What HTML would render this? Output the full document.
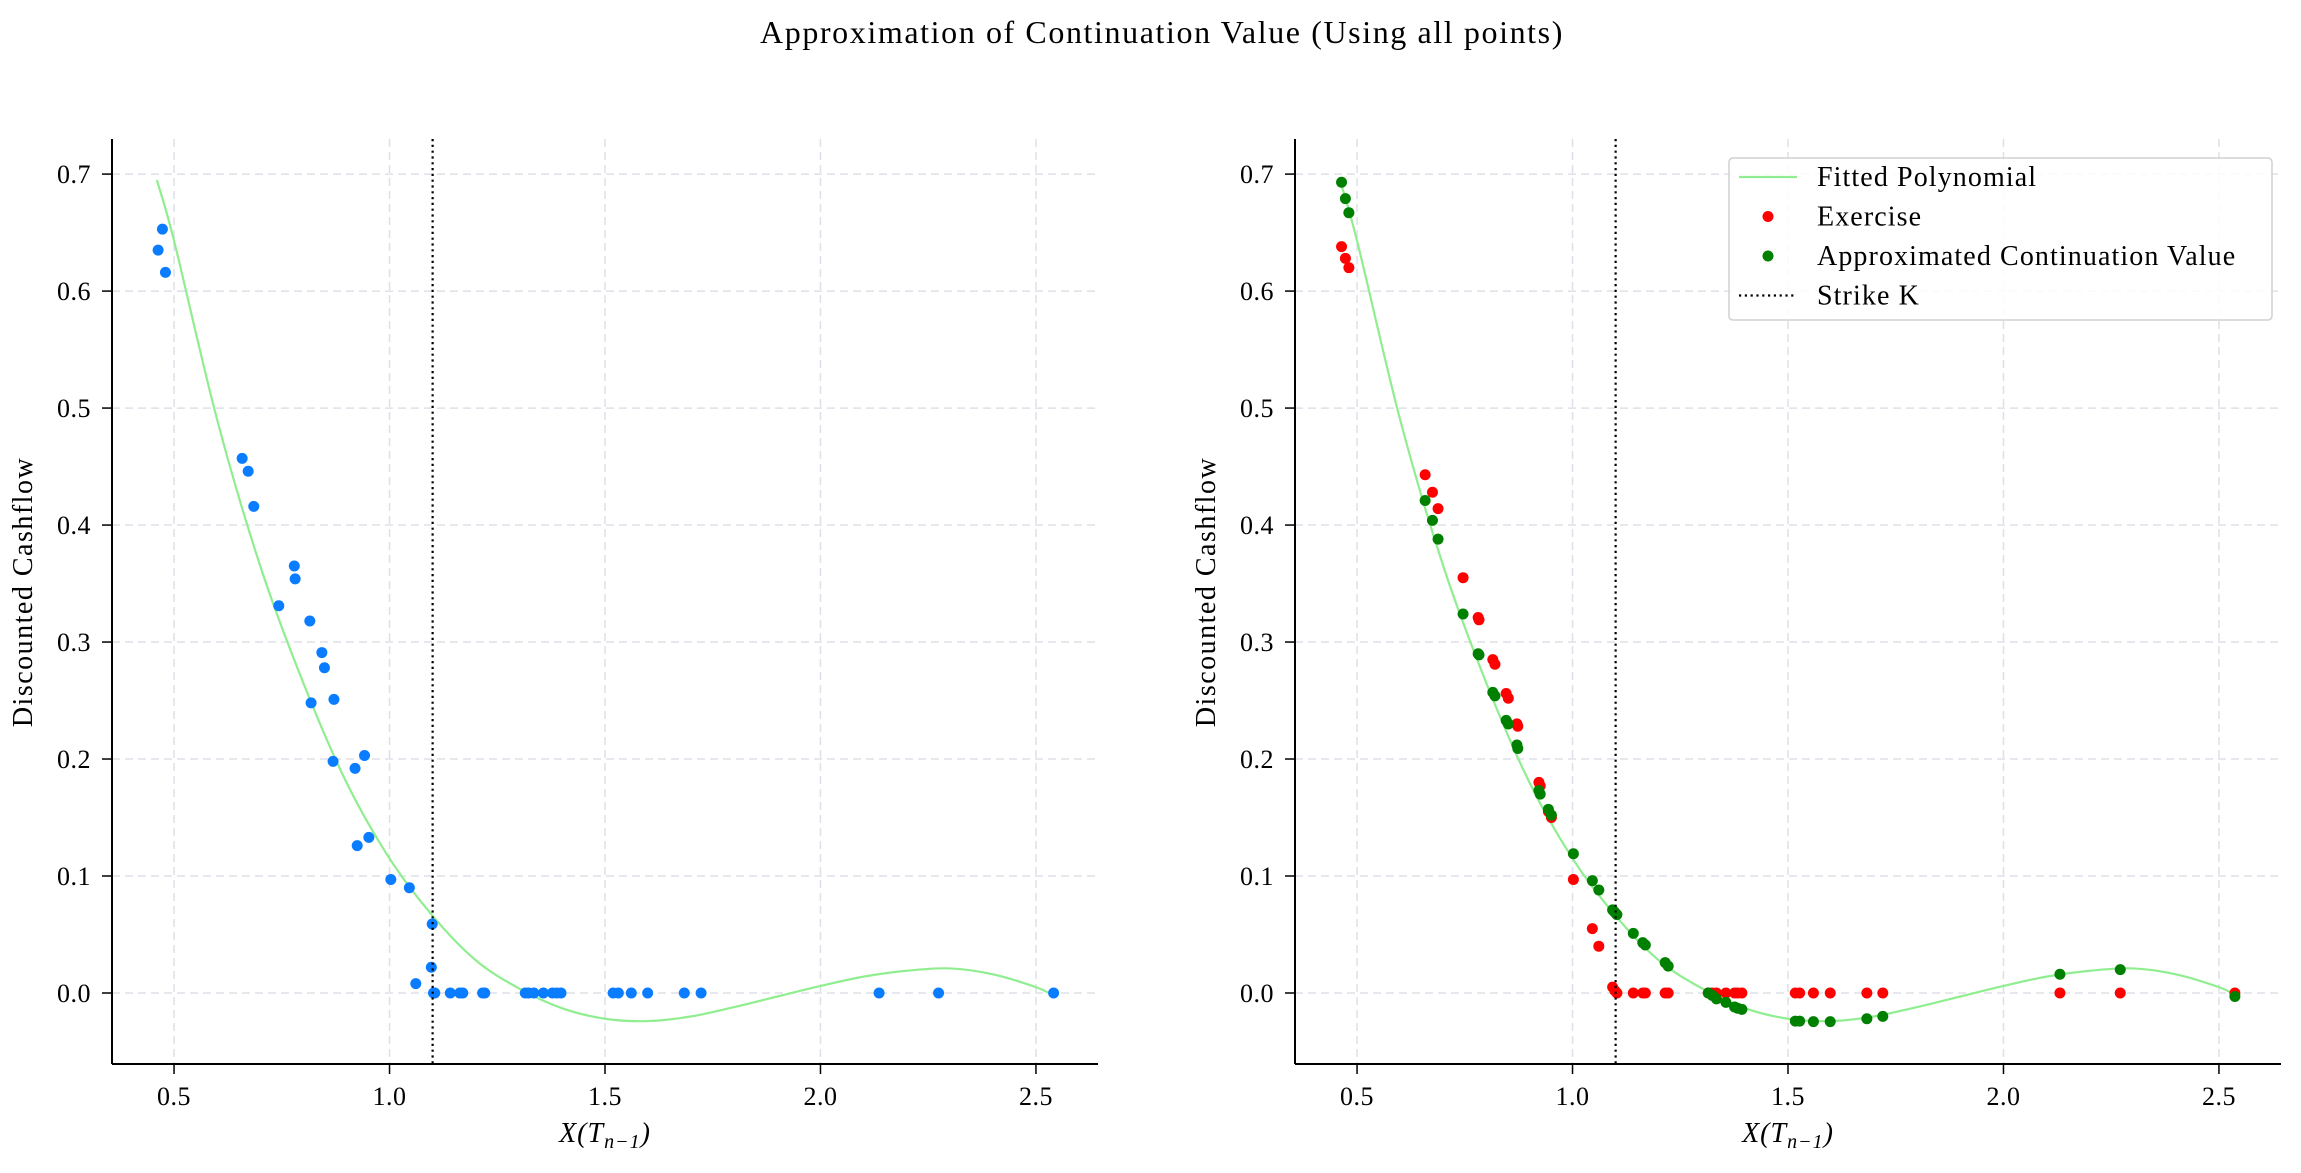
<!DOCTYPE html>
<html><head><meta charset="utf-8">
<style>
html,body{margin:0;padding:0;background:#fff;}
svg text{font-family:"Liberation Serif","DejaVu Serif",serif;fill:#000;}
</style></head>
<body>
<svg id="fig" width="2301" height="1168" xmlns="http://www.w3.org/2000/svg">
<text x="1162" y="43" font-size="32" letter-spacing="1.6" text-anchor="middle">Approximation of Continuation Value (Using all points)</text>
</svg>
<script>
const xTicks = [0.5, 1.0, 1.5, 2.0, 2.5];
const xTickLabels = ["0.5", "1.0", "1.5", "2.0", "2.5"];
const yTicks = [0.0, 0.1, 0.2, 0.3, 0.4, 0.5, 0.6, 0.7];
const yTickLabels = ["0.0", "0.1", "0.2", "0.3", "0.4", "0.5", "0.6", "0.7"];
const strikeK = 1.1;
const curveX = [0.46,0.5,0.6,0.7,0.8,0.9,1.0,1.1,1.2,1.3,1.4,1.5,1.6,1.7,1.8,1.9,2.0,2.1,2.2,2.3,2.4,2.5,2.54];
const curveY = [0.695,0.643,0.49,0.365,0.265,0.18,0.115,0.066,0.028,0.004,-0.013,-0.022,-0.024,-0.02,-0.012,-0.003,0.006,0.014,0.019,0.021,0.016,0.005,-0.002];
const leftX = [0.463,0.473,0.48,0.658,0.672,0.685,0.743,0.779,0.781,0.815,0.818,0.843,0.849,0.869,0.871,0.92,0.925,0.942,0.952,1.003,1.046,1.061,1.097,1.099,
 1.102,1.105,1.141,1.163,1.170,1.216,1.221,1.315,1.323,1.335,1.357,1.378,1.388,1.398,1.519,1.531,1.561,1.599,1.684,1.723,2.136,2.274,2.541];
const leftY = [0.635,0.653,0.616,0.457,0.446,0.416,0.331,0.365,0.354,0.318,0.248,0.291,0.278,0.198,0.251,0.192,0.126,0.203,0.133,0.097,0.090,0.008,0.022,0.059,
 0,0,0,0,0,0,0,0,0,0,0,0,0,0,0,0,0,0,0,0,0,0,0];
const rightX = [0.464,0.473,0.481,0.658,0.675,0.688,0.746,0.781,0.783,0.815,0.82,0.846,0.851,0.871,0.873,0.922,0.925,0.944,0.951,1.002,1.046,1.061,1.093,1.098,1.103,
 1.141,1.163,1.169,1.215,1.222,1.315,1.324,1.334,1.356,1.376,1.383,1.393,1.517,1.527,1.559,1.598,1.683,1.72,2.131,2.271,2.537];
const exerciseY = [0.638,0.628,0.62,0.443,0.428,0.414,0.355,0.321,0.319,0.285,0.281,0.256,0.252,0.23,0.228,0.18,0.177,0.155,0.15,0.097,0.055,0.04,0.005,0.002,0.0,
 0,0,0,0,0,0,0,0,0,0,0,0,0,0,0,0,0,0,0,0,0];
const continuationY = [0.693,0.679,0.667,0.421,0.404,0.388,0.324,0.29,0.289,0.257,0.254,0.233,0.23,0.212,0.209,0.173,0.17,0.157,0.152,0.119,0.096,0.088,0.071,0.069,0.067,
 0.051,0.043,0.041,0.026,0.023,0.0,-0.002,-0.005,-0.008,-0.012,-0.013,-0.014,-0.024,-0.024,-0.0245,-0.0245,-0.022,-0.02,0.016,0.020,-0.003];

const NS = "http://www.w3.org/2000/svg";
const fig = document.getElementById('fig');
function mk(tag, attrs, parent){const e=document.createElementNS(NS,tag);for(const k in attrs)e.setAttribute(k,attrs[k]);(parent||fig).appendChild(e);return e;}
const XMIN=0.356, XMAX=2.644, YMIN=-0.0607, YMAX=0.73, TOP=139, BOT=1064;
function yScale(v){return BOT-(v-YMIN)/(YMAX-YMIN)*(BOT-TOP);}

function smoothPath(xs, ys, sx){
  const p = xs.map((x,i)=>[sx(x), yScale(ys[i])]);
  let d = `M${p[0][0]},${p[0][1]}`;
  for(let i=0;i<p.length-1;i++){
    const p0=p[Math.max(0,i-1)], p1=p[i], p2=p[i+1], p3=p[Math.min(p.length-1,i+2)];
    const c1=[p1[0]+(p2[0]-p0[0])/6, p1[1]+(p2[1]-p0[1])/6];
    const c2=[p2[0]-(p3[0]-p1[0])/6, p2[1]-(p3[1]-p1[1])/6];
    d += ` C${c1[0]},${c1[1]} ${c2[0]},${c2[1]} ${p2[0]},${p2[1]}`;
  }
  return d;
}

function panel(L, R, name, drawPoints){
  const g = mk('g', {});
  
  
  const xs = v => L + (v-XMIN)/(XMAX-XMIN)*(R-L);
  xTicks.forEach((t,i)=>{
    const gl = mk('line',{x1:xs(t),x2:xs(t),y1:TOP,y2:BOT,stroke:'#dde0e8','stroke-width':1.5,'stroke-dasharray':'8,5'},g);
    
    
    const tk = mk('line',{x1:xs(t),x2:xs(t),y1:BOT,y2:BOT+10,stroke:'#000','stroke-width':1.5},g);
    
    
    const tl = mk('text',{x:xs(t),y:BOT+41,'font-size':26,'letter-spacing':0.5,'text-anchor':'middle'},g);
    tl.textContent = xTickLabels[i];
    
    
  });
  yTicks.forEach((t,i)=>{
    const gl = mk('line',{x1:L,x2:R,y1:yScale(t),y2:yScale(t),stroke:'#dde0e8','stroke-width':1.5,'stroke-dasharray':'8,5'},g);
    
    
    const tk = mk('line',{x1:L-10,x2:L,y1:yScale(t),y2:yScale(t),stroke:'#000','stroke-width':1.5},g);
    
    
    const tl = mk('text',{x:L-21,y:yScale(t)+9,'font-size':26,'letter-spacing':0.5,'text-anchor':'end'},g);
    tl.textContent = yTickLabels[i];
    
    
  });
  const c = mk('path',{d:smoothPath(curveX,curveY,xs),fill:'none',stroke:'#90ee90','stroke-width':2.2},g);
  
  
  drawPoints(g, xs);
  const s = mk('line',{x1:xs(strikeK),x2:xs(strikeK),y1:TOP,y2:BOT,stroke:'#000','stroke-width':2.2,'stroke-dasharray':'2.2,3.6'},g);
  
  
  const sl = mk('line',{x1:L,x2:L,y1:TOP,y2:BOT,stroke:'#000','stroke-width':2},g);
  
  
  const sb = mk('line',{x1:L,x2:R,y1:BOT,y2:BOT,stroke:'#000','stroke-width':2},g);
  
  
  const xl = mk('text',{x:(L+R)/2,y:1142,'font-size':28,'letter-spacing':1,'text-anchor':'middle','font-style':'italic'},g);
  xl.innerHTML = 'X(T<tspan font-size="20" dy="6">n−1</tspan><tspan dy="-6">)</tspan>';
  
  
  const yl = mk('text',{x:0,y:0,'font-size':28,'letter-spacing':1.5,'text-anchor':'middle',transform:`translate(${L-80},592) rotate(-90)`},g);
  yl.textContent = 'Discounted Cashflow';
  
  
}

panel(112, 1098, 'left-chart', (g, xs)=>{
  leftX.forEach((x,i)=>{
    const d = mk('circle',{cx:xs(x),cy:yScale(leftY[i]),r:5.5,fill:'#0a7cff'},g);
    
    
  });
});
panel(1295, 2281, 'right-chart', (g, xs)=>{
  rightX.forEach((x,i)=>{
    const d = mk('circle',{cx:xs(x),cy:yScale(exerciseY[i]),r:5.5,fill:'#ff0000'},g);
    
    
  });
  rightX.forEach((x,i)=>{
    const d = mk('circle',{cx:xs(x),cy:yScale(continuationY[i]),r:5.5,fill:'#008000'},g);
    
    
  });
});

const lg = mk('g',{});


mk('rect',{x:1729,y:158,width:543,height:162,rx:4,fill:'#fff','fill-opacity':0.85,stroke:'#d0d0d0','stroke-width':1.5},lg);
const entries = [['Fitted Polynomial','line'],['Exercise','red'],['Approximated Continuation Value','green'],['Strike K','dot']];
entries.forEach((e,i)=>{
  const y = 177 + i*39.5;
  const eg = mk('g',{},lg);
  
  
  if(e[1]==='line') mk('line',{x1:1739,x2:1797,y1:y,y2:y,stroke:'#90ee90','stroke-width':2.2},eg);
  if(e[1]==='red') mk('circle',{cx:1768,cy:y,r:5.5,fill:'#ff0000'},eg);
  if(e[1]==='green') mk('circle',{cx:1768,cy:y,r:5.5,fill:'#008000'},eg);
  if(e[1]==='dot') mk('line',{x1:1739,x2:1797,y1:y,y2:y,stroke:'#000','stroke-width':2.2,'stroke-dasharray':'2.2,3.6'},eg);
  const t = mk('text',{x:1817,y:y+9,'font-size':28,'letter-spacing':1.1},eg);
  t.textContent = e[0];
});
</script>
</body></html>
